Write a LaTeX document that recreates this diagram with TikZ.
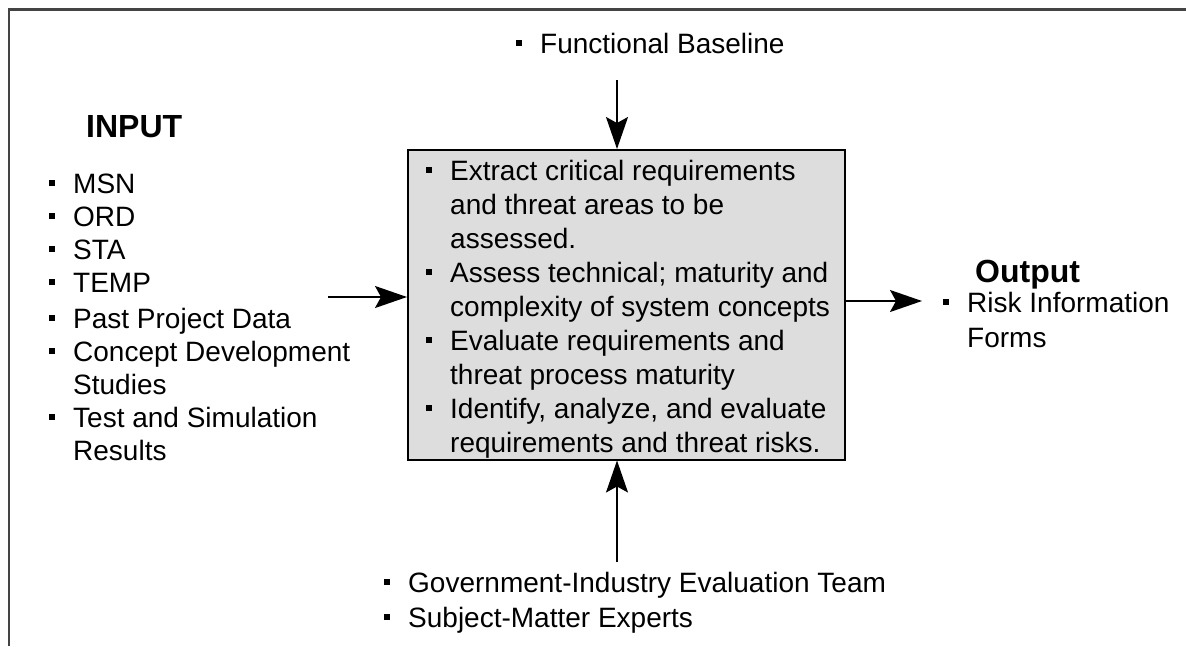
\documentclass[tikz,border=0pt]{standalone}
\usepackage{fontspec}
\setmainfont{Liberation Sans}
\usetikzlibrary{arrows.meta}
\definecolor{boxfill}{HTML}{DDDDDD}
\definecolor{framecol}{HTML}{444444}
\newcommand{\bsq}{\makebox[24pt][l]{\raisebox{7.5pt}{\rule{5.5pt}{5.5pt}}}}
\tikzset{
  txt/.style={inner sep=0pt, anchor=base west, font=\fontsize{28}{34}\selectfont},
  ttl/.style={inner sep=0pt, anchor=base west, font=\fontsize{32}{38}\selectfont\bfseries},
  procbox/.style={draw=black, line width=1.5pt, fill=boxfill, minimum width=437pt, minimum height=310pt, inner sep=0pt, anchor=north west},
  arr/.style={line width=1.5pt, -{Stealth[length=32pt,width=22pt,inset=6pt]}}
}
\begin{document}
\begin{tikzpicture}[x=1pt,y=-1pt]
\useasboundingbox (0,0) rectangle (1186,646);
% frame
\draw[framecol, line width=2.5pt] (9,646) -- (9,9.5) -- (1186,9.5);
% process box
\node[procbox] (proc) at (407,149) {};
% box text
\node[txt] (b1) at (426,180) {\bsq Extract critical requirements};
\node[txt] (b2) at (450,214) {and threat areas to be};
\node[txt] (b3) at (450,248) {assessed.};
\node[txt] (b4) at (426,282) {\bsq Assess technical; maturity and};
\node[txt] (b5) at (450,316) {complexity of system concepts};
\node[txt] (b6) at (426,350) {\bsq Evaluate requirements and};
\node[txt] (b7) at (450,384) {threat process maturity};
\node[txt] (b8) at (426,418) {\bsq Identify, analyze, and evaluate};
\node[txt] (b9) at (450,452) {requirements and threat risks.};
% input
\node[ttl] (inputt) at (86,137) {INPUT};
\node[txt] (i1) at (49,193) {\bsq MSN};
\node[txt] (i2) at (49,226) {\bsq ORD};
\node[txt] (i3) at (49,259) {\bsq STA};
\node[txt] (i4) at (49,292) {\bsq TEMP};
\node[txt] (i5) at (49,328) {\bsq Past Project Data};
\node[txt] (i6) at (49,361) {\bsq Concept Development};
\node[txt] (i7) at (73,394) {Studies};
\node[txt] (i8) at (49,427) {\bsq Test and Simulation};
\node[txt] (i9) at (73,460) {Results};
% output
\node[ttl] (outt) at (975,282) {Output};
\node[txt] (o1) at (943,312) {\bsq Risk Information};
\node[txt] (o2) at (967,347) {Forms};
% top
\node[txt] (fb) at (516,53) {\bsq Functional Baseline};
% bottom
\node[txt] (g1) at (384,592) {\bsq Government-Industry Evaluation Team};
\node[txt] (g2) at (384,627) {\bsq Subject-Matter Experts};
% arrows
\coordinate (topstart) at (617,80);
\coordinate (botstart) at (617,562);
\coordinate (leftstart) at (328,297);
\coordinate (rightend) at (922,301);
\draw[arr] (topstart) -- (topstart |- proc.north);
\draw[arr] (botstart) -- (botstart |- proc.south);
\draw[arr] (leftstart) -- (leftstart -| proc.west);
\draw[arr] (rightend -| proc.east) -- (rightend);
\end{tikzpicture}
\end{document}
